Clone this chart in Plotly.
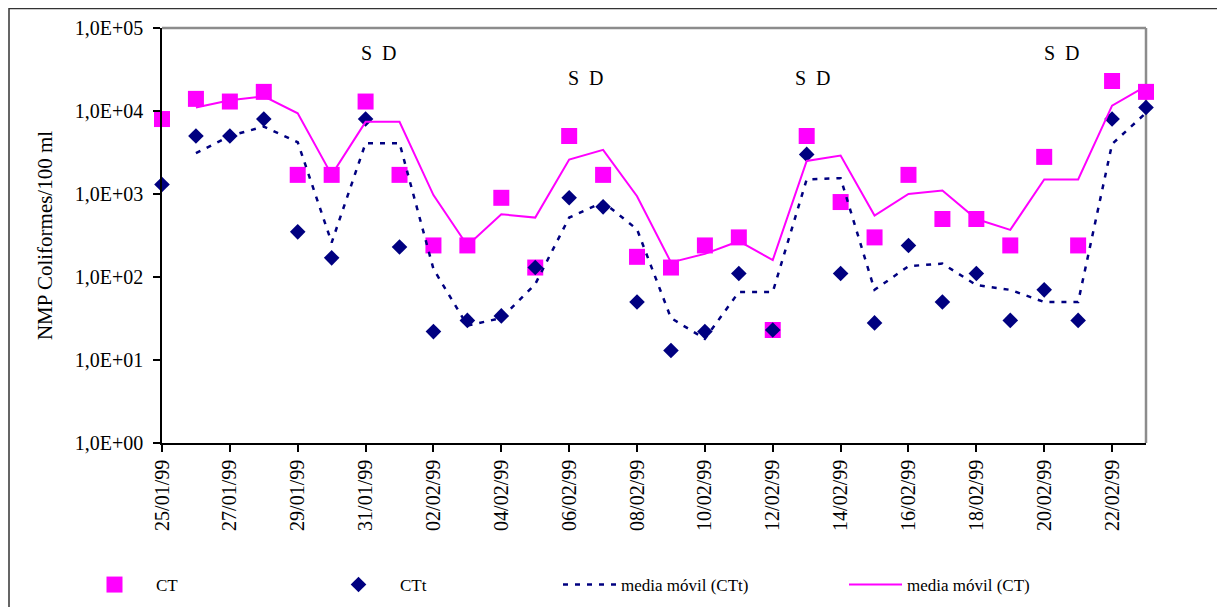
import plotly.graph_objects as go

# ---- data -------------------------------------------------------------
dates = ["25/01/99", "26/01/99", "27/01/99", "28/01/99", "29/01/99", "30/01/99",
         "31/01/99", "01/02/99", "02/02/99", "03/02/99", "04/02/99", "05/02/99",
         "06/02/99", "07/02/99", "08/02/99", "09/02/99", "10/02/99", "11/02/99",
         "12/02/99", "13/02/99", "14/02/99", "15/02/99", "16/02/99", "17/02/99",
         "18/02/99", "19/02/99", "20/02/99", "21/02/99", "22/02/99", "23/02/99"]

ct = [8000, 14000, 13000, 17000, 1700, 1700, 13000, 1700, 240, 240,
      900, 130, 5000, 1700, 175, 130, 240, 300, 23, 5000,
      800, 300, 1700, 500, 500, 240, 2800, 240, 23000, 17000]

ctt = [1300, 5000, 5000, 8000, 350, 170, 8000, 230, 22, 30,
       34, 130, 900, 700, 50, 13, 22, 110, 23, 3000,
       110, 28, 240, 50, 110, 30, 70, 30, 8000, 11000]

ma_ct = [None, 11000, 13500, 15000, 9400, 1700, 7400, 7400, 970, 240,
         570, 520, 2600, 3400, 940, 150, 190, 270, 160, 2500,
         2900, 550, 1000, 1100, 500, 370, 1500, 1500, 11600, 20000]

ma_ctt = [None, 3100, 5000, 6500, 4200, 260, 4100, 4100, 125, 26,
          32, 82, 520, 800, 375, 32, 18, 66, 66, 1500,
          1550, 70, 135, 145, 80, 70, 50, 50, 4000, 9500]

y_tick_vals = [1, 10, 100, 1000, 10000, 100000]
y_tick_text = ["1,0E+00", "1,0E+01", "1,0E+02", "1,0E+03", "1,0E+04", "1,0E+05"]

sd_labels = ["S\u00a0\u00a0D", "S\u00a0\u00a0D", "S\u00a0\u00a0D", "S\u00a0\u00a0D"]
sd_x = [6.40, 12.51, 19.19, 26.53]
sd_y = [4.70, 4.40, 4.40, 4.70]

# ---- figure -----------------------------------------------------------
xi = list(range(len(dates)))
MAGENTA = "#FF00FF"
NAVY = "#000080"
FONT = "Liberation Serif, Times New Roman, serif"

fig = go.Figure()
fig.add_trace(go.Scatter(x=xi, y=ct, mode="markers", name="CT",
                         marker=dict(symbol="square", size=16, color=MAGENTA),
                         cliponaxis=False, legend="legend"))
fig.add_trace(go.Scatter(x=xi, y=ctt, mode="markers", name="CTt",
                         marker=dict(symbol="diamond", size=12, color=NAVY),
                         cliponaxis=False, legend="legend2"))
fig.add_trace(go.Scatter(x=xi, y=ma_ctt, mode="lines", name="media móvil (CTt)",
                         line=dict(color=NAVY, width=2.5, dash="5px,7px"),
                         cliponaxis=False, legend="legend3"))
fig.add_trace(go.Scatter(x=xi, y=ma_ct, mode="lines", name="media móvil (CT)",
                         line=dict(color=MAGENTA, width=2),
                         cliponaxis=False, legend="legend4"))

for t, xv, yv in zip(sd_labels, sd_x, sd_y):
    fig.add_annotation(x=xv, y=yv, xref="x", yref="y", text=t, showarrow=False,
                       font=dict(size=20, color="black", family=FONT))

# plot area in window pixels; the page body adds an 8px offset
OFF = 8
PW, PH, L, T = 984, 415, 162, 28
W, H = 1225 - OFF, 607 - OFF


def px(xp):
    return (xp - L) / PW


def py(yp):
    return (T + PH - yp) / PH


def cy(yp):
    # container-relative y for a window pixel row
    return 1 - (yp - OFF) / H


shapes = [
    dict(type="rect", xref="paper", yref="paper", x0=px(9), x1=px(1260), y0=py(640), y1=py(8.5),
         line=dict(color="#333333", width=1.5), layer="below"),
    dict(type="line", xref="paper", yref="paper", x0=0, x1=1, y0=1, y1=1,
         line=dict(color="#8c8c8c", width=2.5), layer="below"),
    dict(type="line", xref="paper", yref="paper", x0=1, x1=1, y0=0, y1=1,
         line=dict(color="#8c8c8c", width=2.5), layer="below"),
]

leg_common = dict(orientation="h", yanchor="middle", xanchor="left",
                  yref="container", y=cy(585),
                  bgcolor="rgba(0,0,0,0)", font=dict(size=17, family=FONT, color="black"))

fig.update_layout(
    width=W, height=H,
    margin=dict(l=L - OFF, r=W - (L - OFF) - PW, t=T - OFF, b=H - (T - OFF) - PH,
                autoexpand=False),
    paper_bgcolor="white", plot_bgcolor="white",
    font=dict(family=FONT, size=20, color="black"),
    shapes=shapes,
    showlegend=True,
    legend=dict(leg_common, x=px(73), itemwidth=73),
    legend2=dict(leg_common, x=px(317), itemwidth=73),
    legend3=dict(leg_common, x=px(558), itemwidth=53),
    legend4=dict(leg_common, x=px(844), itemwidth=53),
    xaxis=dict(range=[0, 29], tickvals=xi[::2], ticktext=dates[::2], tickangle=-90,
               ticks="outside", ticklen=7, tickcolor="black", tickwidth=1.5,
               showline=True, linecolor="black", linewidth=1.5, automargin=False,
               showgrid=False, zeroline=False, tickfont=dict(size=20)),
    yaxis=dict(type="log", range=[0, 5], tickvals=y_tick_vals, ticktext=y_tick_text,
               ticks="outside", ticklen=7, tickcolor="black", tickwidth=1.5,
               ticklabelstandoff=6, automargin=False,
               showline=True, linecolor="black", linewidth=1.5,
               showgrid=False, zeroline=False, tickfont=dict(size=20),
               title=dict(text="NMP Coliformes/100 ml", font=dict(size=21), standoff=16)),
)

fig.write_html("out.html")
